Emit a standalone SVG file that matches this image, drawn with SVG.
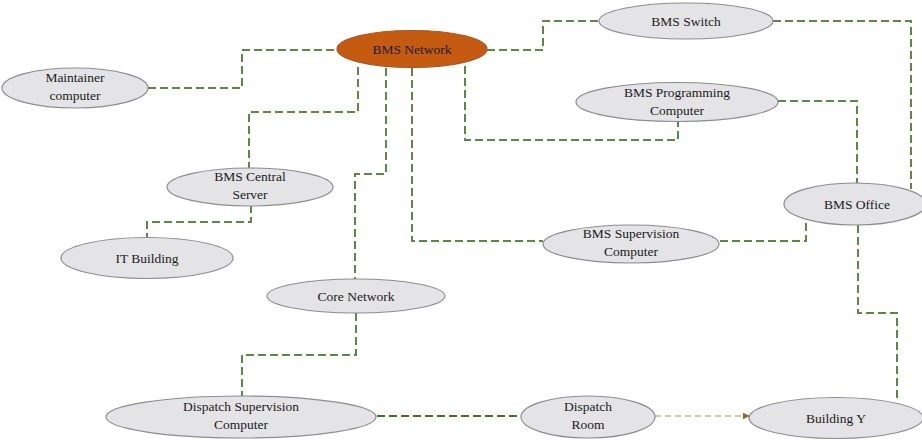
<svg xmlns="http://www.w3.org/2000/svg" width="922" height="440" viewBox="0 0 922 440">
  <style>
    .node ellipse { fill: #e4e4e6; stroke: #8c8c94; stroke-width: 1.2; }
    #bms-network ellipse { fill: #c55a11; stroke: #a8571f; }
    text { font-family: "Liberation Serif", "DejaVu Serif", serif; font-size: 13.5px; fill: #1a1a1a; text-anchor: middle; }
    .link { fill: none; stroke: #5a8a42; stroke-width: 2; stroke-dasharray: 8 4; }
    .link.dark { stroke: #3f7426; }
    .link.flow { stroke: #c8b98c; stroke-width: 1.6; stroke-dasharray: 6 4; }
  </style>
  <defs>
    <marker id="arrow" viewBox="0 0 10 10" refX="9" refY="5" markerWidth="7" markerHeight="7" orient="auto" markerUnits="userSpaceOnUse">
      <path d="M0,0 L10,5 L0,10 Z" fill="#8a6d1e"/>
    </marker>
  </defs>

  <rect width="922" height="440" fill="#ffffff"/>

  <!-- connectors -->
  <g id="connectors">
    <path class="link" d="M148,88 H242 V50 H337"/>
    <path class="link" d="M358,67 V112 H249 V168"/>
    <path class="link" d="M386,68 V174 H355 V279"/>
    <path class="link" d="M412,68 V241 H543"/>
    <path class="link" d="M465,66 V140 H678 V121"/>
    <path class="link" d="M487,50 H543 V21 H599"/>
    <path class="link" d="M773,21 H911 V189"/>
    <path class="link" d="M778,101 H857 V185"/>
    <path class="link" d="M720,241 H806 V223"/>
    <path class="link" d="M251,205 V222 H147 V238"/>
    <path class="link" d="M356,313 V355 H242 V397"/>
    <path class="link" d="M858,225 V313 H897 V402"/>
    <path class="link dark" d="M377,416 H521"/>
    <path class="link flow" d="M655,416 H749" marker-end="url(#arrow)"/>
  </g>

  <!-- nodes -->
  <g id="bms-network" class="node">
    <ellipse cx="412" cy="49" rx="75" ry="18.5"/>
    <text x="412" y="54">BMS Network</text>
  </g>
  <g id="maintainer-computer" class="node">
    <ellipse cx="75" cy="88" rx="73" ry="20"/>
    <text x="75" y="82">Maintainer</text>
    <text x="75" y="100">computer</text>
  </g>
  <g id="bms-switch" class="node">
    <ellipse cx="686" cy="21" rx="87" ry="18"/>
    <text x="686" y="26">BMS Switch</text>
  </g>
  <g id="bms-programming-computer" class="node">
    <ellipse cx="677" cy="102" rx="101" ry="19.5"/>
    <text x="677" y="97">BMS Programming</text>
    <text x="677" y="115">Computer</text>
  </g>
  <g id="bms-central-server" class="node">
    <ellipse cx="250" cy="187" rx="83" ry="19"/>
    <text x="250" y="181">BMS Central</text>
    <text x="250" y="199">Server</text>
  </g>
  <g id="it-building" class="node">
    <ellipse cx="147" cy="258" rx="86" ry="20.5"/>
    <text x="147" y="263">IT Building</text>
  </g>
  <g id="core-network" class="node">
    <ellipse cx="356" cy="296" rx="89" ry="17"/>
    <text x="356" y="301">Core Network</text>
  </g>
  <g id="bms-supervision-computer" class="node">
    <ellipse cx="631" cy="244" rx="88" ry="19"/>
    <text x="631" y="238">BMS Supervision</text>
    <text x="631" y="256">Computer</text>
  </g>
  <g id="bms-office" class="node">
    <ellipse cx="855" cy="204" rx="71" ry="21"/>
    <text x="857" y="209">BMS Office</text>
  </g>
  <g id="dispatch-supervision-computer" class="node">
    <ellipse cx="241" cy="417" rx="135" ry="21"/>
    <text x="241" y="411">Dispatch Supervision</text>
    <text x="241" y="429">Computer</text>
  </g>
  <g id="dispatch-room" class="node">
    <ellipse cx="588" cy="417" rx="67" ry="21"/>
    <text x="588" y="411">Dispatch</text>
    <text x="588" y="429">Room</text>
  </g>
  <g id="building-y" class="node">
    <ellipse cx="836" cy="418" rx="87" ry="20.5"/>
    <text x="836" y="423">Building Y</text>
  </g>
</svg>
